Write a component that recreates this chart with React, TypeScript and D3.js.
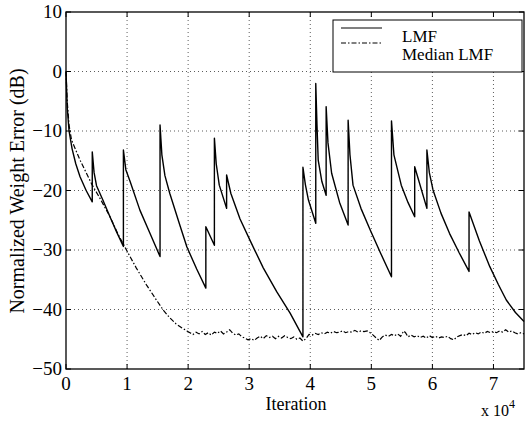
import * as d3 from "d3";

// iterations (in units of 1e4) and error in dB
const lmfPoints: [number, number][] = [
  [0, 0], [0.02, -6], [0.05, -10], [0.1, -13], [0.16, -15.5], [0.23, -17.7], [0.33, -20], [0.43, -21.9],
  [0.43, -13.5], [0.46, -17], [0.5, -19.2], [0.6, -21.5], [0.72, -24.4], [0.83, -27], [0.94, -29.4],
  [0.94, -13.2], [0.98, -16.5], [1.05, -18.5], [1.21, -23.3], [1.38, -27.3], [1.54, -31.1],
  [1.54, -9.0], [1.57, -14], [1.62, -17.5], [1.7, -20.5], [1.87, -26.0], [1.98, -29.5], [2.14, -33.2], [2.29, -36.4],
  [2.29, -26.1], [2.43, -29.2],
  [2.43, -11.2], [2.46, -15.5], [2.51, -19.1], [2.63, -23],
  [2.63, -17.4], [2.7, -20.5], [2.85, -24.8], [3.01, -28.3], [3.23, -33], [3.45, -37], [3.67, -40.6], [3.88, -44.6],
  [3.88, -16.1], [3.92, -19], [3.97, -21.6], [4.09, -25.5],
  [4.09, -2.0], [4.11, -9], [4.13, -14.9], [4.19, -18.5], [4.26, -20.8],
  [4.26, -5.9], [4.29, -12], [4.35, -17.1], [4.48, -22], [4.62, -25.8],
  [4.62, -8.2], [4.65, -14], [4.7, -19.1], [4.83, -23], [4.98, -26.6], [5.15, -30.5], [5.33, -34.5],
  [5.33, -8.3], [5.37, -14], [5.49, -19.1], [5.6, -22], [5.71, -24.4],
  [5.71, -16], [5.91, -23],
  [5.91, -13.2], [5.95, -17], [6.01, -19.9], [6.14, -23.8], [6.28, -27.2], [6.44, -30.5], [6.6, -33.6],
  [6.6, -23.6], [6.77, -28.5], [6.94, -32.8], [7.08, -35.8], [7.21, -38.4], [7.36, -40.5], [7.5, -42.0],
];

const medianPoints: [number, number][] = [
  [0, 0], [0.02, -5], [0.05, -9], [0.09, -11.5], [0.16, -13.2], [0.23, -14.9], [0.33, -17], [0.43, -19.1],
  [0.55, -21.2], [0.72, -24.4], [0.85, -27.3], [0.99, -30], [1.15, -33], [1.32, -35.9], [1.48, -38.4],
  [1.6, -40.2], [1.7, -41.4], [1.8, -42.4], [1.9, -43.1], [1.98, -43.6],
  [2.03, -43.9], [2.08, -44.2], [2.13, -43.8], [2.18, -44.1], [2.23, -43.7], [2.28, -44.2], [2.33, -43.9],
  [2.38, -44.3], [2.43, -43.8], [2.48, -44.0], [2.53, -43.6], [2.58, -44.1], [2.63, -43.8], [2.68, -43.4],
  [2.73, -44.0], [2.78, -44.3], [2.83, -44.1], [2.88, -44.6], [2.93, -44.8], [2.98, -45.1], [3.03, -44.9],
  [3.08, -45.2], [3.13, -44.8], [3.18, -44.5], [3.23, -44.9], [3.28, -44.4], [3.33, -44.7], [3.38, -44.5],
  [3.43, -44.9], [3.48, -44.5], [3.53, -44.8], [3.58, -44.4], [3.63, -44.7], [3.68, -44.9], [3.73, -44.6],
  [3.78, -45.0], [3.83, -44.8], [3.88, -45.3], [3.93, -44.9], [3.98, -44.2], [4.03, -44.3], [4.08, -44.0],
  [4.13, -44.2], [4.18, -43.9], [4.23, -44.1], [4.28, -43.8], [4.33, -44.0], [4.38, -43.7], [4.43, -43.9],
  [4.48, -43.8], [4.53, -43.6], [4.58, -43.9], [4.63, -43.7], [4.68, -43.8], [4.73, -43.5], [4.78, -43.8],
  [4.83, -43.6], [4.88, -43.7], [4.93, -43.6], [4.98, -43.9], [5.03, -44.3], [5.08, -44.8], [5.13, -45.2],
  [5.18, -44.6], [5.23, -44.3], [5.28, -44.5], [5.33, -44.2], [5.38, -44.4], [5.43, -44.1], [5.48, -44.5],
  [5.53, -43.6], [5.56, -43.9], [5.6, -44.6], [5.65, -44.3], [5.7, -44.6], [5.75, -44.4], [5.8, -44.7],
  [5.85, -44.5], [5.9, -44.8], [5.95, -44.4], [6.0, -44.7], [6.05, -44.5], [6.1, -44.8], [6.15, -44.6],
  [6.2, -44.7], [6.25, -44.5], [6.3, -44.9], [6.35, -45.1], [6.4, -44.6], [6.45, -44.4], [6.5, -44.2],
  [6.55, -44.4], [6.6, -44.0], [6.65, -44.2], [6.7, -43.9], [6.75, -44.1], [6.8, -43.8], [6.85, -44.0],
  [6.9, -43.7], [6.95, -43.9], [7.0, -43.7], [7.05, -43.9], [7.1, -43.6], [7.15, -43.8], [7.2, -43.4],
  [7.25, -43.8], [7.3, -43.6], [7.35, -43.9], [7.4, -44.1], [7.45, -43.9], [7.5, -44.1],
];

const xTicks = [0, 1, 2, 3, 4, 5, 6, 7];
const yTicks = [10, 0, -10, -20, -30, -40, -50];
const seriesNames = ["LMF", "Median LMF"];

const W = 526;
const H = 422;
const plot = { left: 66, right: 524, top: 12, bottom: 369 };
const font = "'Liberation Serif', 'Times New Roman', Times, serif";
const dashDot = "5,2,1.5,2";

export default function App() {
  const x = d3.scaleLinear().domain([0, 7.5]).range([plot.left, plot.right]);
  const y = d3.scaleLinear().domain([-50, 10]).range([plot.bottom, plot.top]);
  const line = d3
    .line<[number, number]>()
    .x((d) => x(d[0]))
    .y((d) => y(d[1]));

  const tick = 5;

  return (
    <svg
      width={W}
      height={H}
      style={{ position: "absolute", left: 0, top: 0, background: "#fff" }}
      fontFamily={font}
    >
      {/* grid */}
      <g stroke="#333" strokeWidth={0.8} strokeDasharray="1,3">
        {xTicks
          .filter((t) => t > 0)
          .map((t) => (
            <line key={"gx" + t} x1={x(t)} x2={x(t)} y1={plot.top} y2={plot.bottom} />
          ))}
        {yTicks
          .filter((t) => t > -50 && t < 10)
          .map((t) => (
            <line key={"gy" + t} x1={plot.left} x2={plot.right} y1={y(t)} y2={y(t)} />
          ))}
      </g>

      {/* ticks */}
      <g stroke="#000" strokeWidth={1}>
        {xTicks.map((t) => (
          <g key={"tx" + t}>
            <line x1={x(t)} x2={x(t)} y1={plot.bottom} y2={plot.bottom - tick} />
            <line x1={x(t)} x2={x(t)} y1={plot.top} y2={plot.top + tick} />
          </g>
        ))}
        {yTicks.map((t) => (
          <g key={"ty" + t}>
            <line x1={plot.left} x2={plot.left + tick} y1={y(t)} y2={y(t)} />
            <line x1={plot.right} x2={plot.right - tick} y1={y(t)} y2={y(t)} />
          </g>
        ))}
      </g>

      {/* series */}
      <path d={line(medianPoints) ?? ""} fill="none" stroke="#000" strokeWidth={1.2} strokeDasharray={dashDot} />
      <path d={line(lmfPoints) ?? ""} fill="none" stroke="#000" strokeWidth={1.4} strokeLinejoin="round" />

      {/* frame */}
      <rect
        x={plot.left}
        y={plot.top}
        width={plot.right - plot.left}
        height={plot.bottom - plot.top}
        fill="none"
        stroke="#000"
        strokeWidth={1.3}
      />

      {/* tick labels */}
      <g fontSize={19} fill="#000">
        {yTicks.map((t) => (
          <text key={"ly" + t} x={plot.left - 4} y={y(t) + 6} textAnchor="end">
            {t < 0 ? "\u2212" + Math.abs(t) : String(t)}
          </text>
        ))}
        {xTicks.map((t) => (
          <text key={"lx" + t} x={x(t)} y={390} textAnchor="middle">
            {t}
          </text>
        ))}
      </g>

      {/* axis labels */}
      <text x={296} y={410} fontSize={18} textAnchor="middle">
        Iteration
      </text>
      <text x={481} y={416} fontSize={16}>
        x 10
        <tspan dy={-8} fontSize={12}>
          4
        </tspan>
      </text>
      <text
        transform="translate(24,191) rotate(-90)"
        fontSize={20}
        textAnchor="middle"
      >
        Normalized Weight Error (dB)
      </text>

      {/* legend */}
      <g>
        <rect x={333} y={20} width={189} height={52} fill="#fff" stroke="#000" strokeWidth={1} />
        {seriesNames.map((name, i) => (
          <g key={name}>
            <line
              x1={341}
              x2={382}
              y1={28 + i * 15}
              y2={28 + i * 15}
              stroke="#000"
              strokeWidth={1}
              strokeDasharray={i === 1 ? dashDot : undefined}
            />
            <text x={402} y={42 + i * 18} fontSize={17}>
              {name}
            </text>
          </g>
        ))}
      </g>
    </svg>
  );
}
